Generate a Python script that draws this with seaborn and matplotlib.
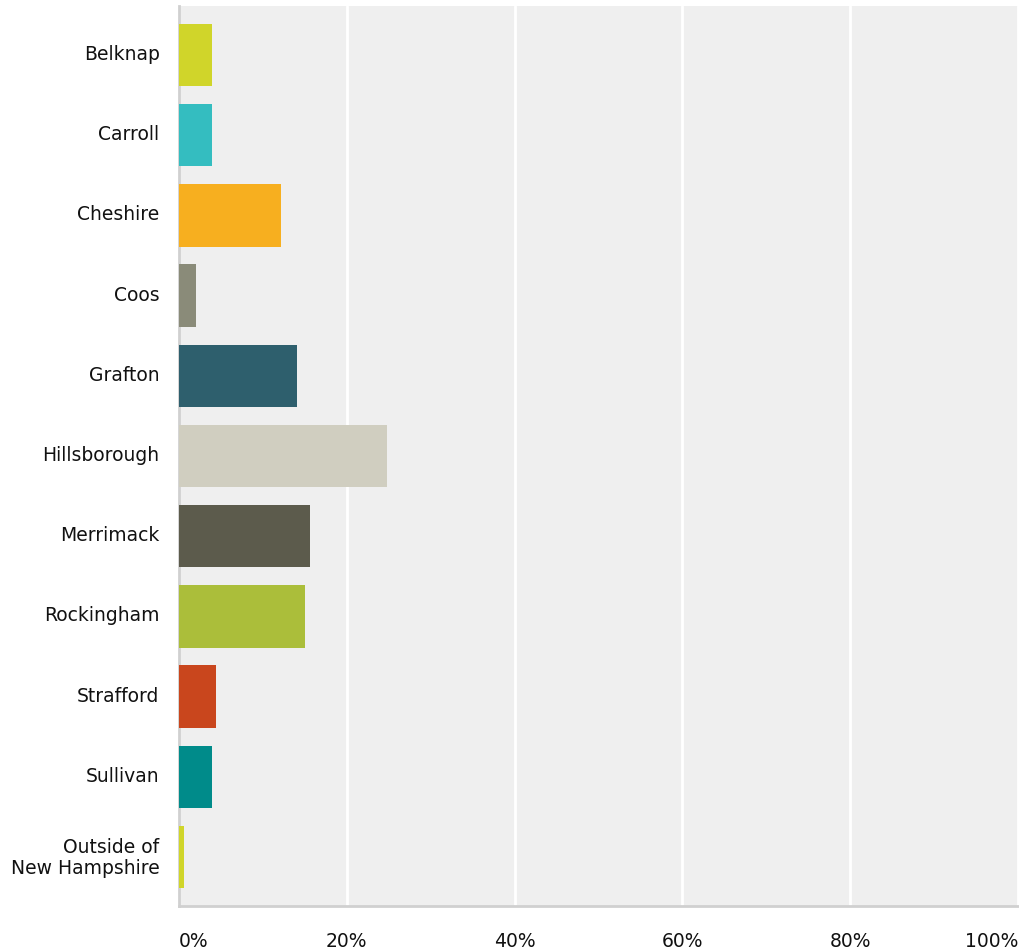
import matplotlib
matplotlib.use("Agg")
import matplotlib.pyplot as plt
import matplotlib.transforms as mtransforms
import seaborn as sns
import pandas as pd
from matplotlib.ticker import FixedLocator

counties = ["Belknap", "Carroll", "Cheshire", "Coos", "Grafton", "Hillsborough",
            "Merrimack", "Rockingham", "Strafford", "Sullivan",
            "Outside of\nNew Hampshire"]
percent = [3.9, 3.9, 12.2, 2.0, 14.1, 24.8, 15.6, 15.0, 4.4, 3.9, 0.6]
bar_colors = ["#d0d52a", "#34bdc0", "#f7af1f", "#8a8b79", "#2e5f6d", "#d0cec0",
              "#5c5b4c", "#abbe3a", "#c9461d", "#008b8a", "#d0d52a"]
x_ticks = [0, 20, 40, 60, 80, 100]
x_tick_labels = ["0%", "20%", "40%", "60%", "80%", "100%"]

df = pd.DataFrame({"county": counties, "percent": percent})

sns.set_style("white")
plt.rcParams["font.family"] = ["DejaVu Sans"]

fig = plt.figure(figsize=(10.19, 9.53), dpi=100)
ax = fig.add_axes([179 / 1019, 1 - 907 / 953, 839 / 1019, 900 / 953])
ax.set_facecolor("#efefef")

sns.barplot(data=df, x="percent", y="county", hue="county", palette=bar_colors,
            legend=False, orient="h", width=0.78, saturation=1, linewidth=0,
            ax=ax, zorder=3)

ax.set_xlim(0, 100)
ax.set_ylim(len(counties) - 0.5 + 0.11, -0.5 - 0.11)
ax.xaxis.set_major_locator(FixedLocator(x_ticks))
ax.set_xticklabels(x_tick_labels)
ax.grid(axis="x", color="white", linewidth=2, zorder=1)
ax.grid(axis="y", visible=False)
ax.set_axisbelow(True)

for side in ["top", "right"]:
    ax.spines[side].set_visible(False)
for side in ["left", "bottom"]:
    ax.spines[side].set_color("#d0d0d0")
    ax.spines[side].set_linewidth(2)

ax.tick_params(axis="both", length=0, labelsize=13.5, labelcolor="#111111")
ax.tick_params(axis="y", pad=14)
ax.tick_params(axis="x", pad=18)

# nudge category labels slightly upward
lift = mtransforms.ScaledTranslation(0, 2.5 / 72, fig.dpi_scale_trans)
for lbl in ax.get_yticklabels():
    lbl.set_linespacing(1.13)
    lbl.set_transform(lbl.get_transform() + lift)
xl = ax.get_xticklabels()
xl[0].set_horizontalalignment("left")
xl[-1].set_horizontalalignment("right")

ax.set_xlabel("")
ax.set_ylabel("")

fig.savefig("out.png", dpi=100)
